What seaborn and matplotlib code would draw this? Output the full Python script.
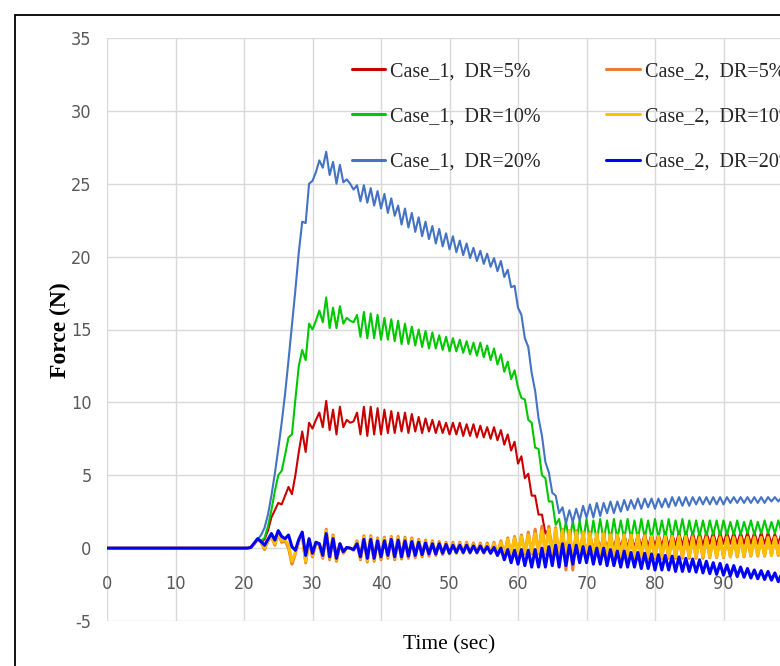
import numpy as np
import pandas as pd
import matplotlib
matplotlib.use("Agg")
import matplotlib.pyplot as plt
from matplotlib.patches import Rectangle
import seaborn as sns

# ---------------- data ----------------
# sampling grid: t = 0, then 20.0 ... 100.0 every 0.5 s
time_s = np.concatenate([[0.0], np.arange(20.0, 100.01, 0.5)])

case1_dr5 = [0.0,
    0, 0, 0.05, 0.3, 0.6, 0.4, 0.6, 1.2, 2.1, 2.6,
    3.1, 3.0, 3.6, 4.2, 3.7, 5.0, 6.6, 8.0, 6.6, 8.6,
    8.2, 8.8, 9.3, 8.3, 10.1, 8.1, 9.5, 7.8, 9.7, 8.3,
    8.8, 8.6, 8.7, 9.3, 7.8, 9.7, 7.7, 9.7, 7.8, 9.6,
    7.8, 9.5, 7.9, 9.4, 7.9, 9.3, 8.0, 9.3, 7.9, 9.2,
    8.0, 9.0, 7.9, 8.9, 8.0, 8.8, 7.9, 8.7, 7.9, 8.6,
    7.8, 8.6, 7.8, 8.6, 7.7, 8.5, 7.7, 8.5, 7.6, 8.4,
    7.6, 8.3, 7.5, 8.3, 7.4, 8.1, 7.1, 7.8, 6.7, 7.3,
    5.8, 6.3, 4.8, 5.1, 3.6, 3.6, 2.3, 2.3, 1.0, 1.3,
    0.1, 0.9, -0.2, 1.0, -0.3, 1.0, -0.4, 1.0, -0.2, 0.9,
    -0.2, 0.9, -0.1, 0.9, -0.1, 1.0, -0.1, 0.9, 0.0, 1.0,
    0.0, 1.0, 0.0, 1.0, 0.0, 1.0, 0.1, 1.0, 0.1, 1.0,
    0.1, 1.0, 0.1, 1.1, 0.1, 1.0, 0.2, 1.1, 0.2, 1.1,
    0.2, 1.1, 0.2, 1.1, 0.2, 1.1, 0.3, 1.1, 0.2, 1.1,
    0.3, 1.1, 0.3, 1.1, 0.3, 1.1, 0.3, 1.1, 0.3, 1.1,
    0.3, 1.1, 0.3, 1.1, 0.3, 1.0, 0.3, 1.1, 0.3, 1.0,
    0.3]

case1_dr10 = [0.0,
    0, 0, 0.05, 0.3, 0.6, 0.5, 0.7, 1.5, 2.6, 3.9,
    5.0, 5.3, 6.4, 7.6, 7.8, 10.2, 12.5, 13.6, 12.9, 15.4,
    15.0, 15.6, 16.3, 15.5, 17.2, 15.1, 16.5, 15.1, 16.6, 15.4,
    15.8, 15.6, 15.5, 16.0, 14.5, 16.2, 14.4, 16.1, 14.4, 16.0,
    14.3, 15.8, 14.3, 15.7, 14.2, 15.6, 14.0, 15.4, 14.0, 15.2,
    13.9, 15.0, 13.8, 14.9, 13.7, 14.8, 13.7, 14.6, 13.6, 14.5,
    13.5, 14.4, 13.5, 14.3, 13.4, 14.2, 13.3, 14.1, 13.2, 14.1,
    13.1, 13.9, 12.9, 13.7, 12.6, 13.3, 12.1, 12.8, 11.6, 12.2,
    11.0, 10.3, 10.2, 8.8, 8.6, 6.9, 6.8, 5.0, 4.8, 3.2,
    3.2, 1.6, 2.0, 0.6, 1.8, 0.4, 1.9, 0.4, 1.9, 0.4,
    2.0, 0.4, 1.9, 0.5, 2.0, 0.5, 1.9, 0.5, 2.0, 0.6,
    1.9, 0.6, 2.0, 0.6, 1.9, 0.6, 2.0, 0.7, 1.9, 0.6,
    2.0, 0.7, 1.9, 0.7, 2.0, 0.7, 1.9, 0.8, 2.0, 0.7,
    1.9, 0.8, 1.9, 0.8, 1.9, 0.8, 1.9, 0.9, 1.9, 0.8,
    1.9, 0.9, 1.8, 0.9, 1.9, 0.9, 1.8, 1.0, 1.9, 0.9,
    1.8, 1.0, 1.9, 1.0, 1.8, 1.0, 1.9, 1.0, 1.8, 1.0,
    1.8]

case1_dr20 = [0.0,
    0, 0, 0.05, 0.3, 0.6, 0.9, 1.4, 2.3, 3.6, 5.1,
    6.8, 8.6, 10.6, 12.9, 15.3, 17.7, 20.3, 22.4, 22.3, 25.0,
    25.2, 25.8, 26.6, 26.1, 27.2, 25.6, 26.5, 25.0, 26.3, 25.1,
    25.3, 25.0, 24.6, 24.9, 23.8, 24.9, 23.7, 24.7, 23.5, 24.5,
    23.3, 24.3, 23.0, 24.0, 22.8, 23.5, 22.2, 23.3, 22.0, 23.0,
    21.7, 22.7, 21.4, 22.4, 21.2, 22.1, 20.9, 21.9, 20.7, 21.6,
    20.5, 21.4, 20.3, 21.1, 20.1, 20.9, 19.9, 20.6, 19.7, 20.4,
    19.5, 20.2, 19.3, 19.9, 19.0, 19.7, 18.6, 19.1, 17.9, 18.0,
    16.5, 16.0, 14.4, 13.8, 12.0, 10.8, 8.9, 7.7, 5.9, 5.2,
    3.8, 3.6, 2.4, 2.8, 1.7, 2.6, 1.8, 2.7, 1.9, 2.9,
    2.1, 3.0, 2.1, 3.1, 2.2, 3.1, 2.4, 3.2, 2.4, 3.2,
    2.5, 3.3, 2.6, 3.3, 2.7, 3.4, 2.7, 3.4, 2.8, 3.4,
    2.7, 3.4, 2.8, 3.4, 2.8, 3.5, 2.9, 3.5, 2.9, 3.5,
    2.9, 3.5, 3.0, 3.5, 3.0, 3.5, 3.0, 3.5, 3.0, 3.5,
    3.0, 3.5, 3.1, 3.5, 3.1, 3.5, 3.1, 3.5, 3.1, 3.5,
    3.1, 3.5, 3.1, 3.5, 3.2, 3.5, 3.2, 3.5, 3.2, 3.5,
    3.2]

case2_dr5 = [0.0,
    0, 0, 0.05, 0.3, 0.6, 0.4, -0.1, 0.5, 0.8, 0.2,
    1.0, 0.4, 0.5, 0.0, -1.1, -0.4, 0.5, 0.9, -1.0, 0.6,
    -0.6, 0.4, 0.2, -0.7, 1.3, -0.8, 0.9, -0.9, 0.3, -0.35,
    0.0, 0.0, -0.15, 0.5, -0.8, 0.85, -0.95, 0.85, -0.9, 0.7,
    -0.8, 0.75, -0.7, 0.8, -0.8, 0.8, -0.75, 0.75, -0.7, 0.7,
    -0.65, 0.6, -0.6, 0.55, -0.55, 0.5, -0.5, 0.45, -0.45, 0.4,
    -0.4, 0.4, -0.35, 0.4, -0.35, 0.4, -0.35, 0.35, -0.35, 0.35,
    -0.35, 0.35, -0.35, 0.4, -0.5, 0.5, -0.5, 0.7, -0.5, 0.8,
    -0.5, 0.9, -0.4, 1.1, -0.4, 1.3, -0.4, 1.5, -0.4, 1.5,
    -0.5, 1.4, -0.8, 1.3, -1.5, 1.2, -1.5, 1.2, -0.7, 1.1,
    -0.7, 1.1, -0.7, 1.0, -0.7, 1.0, -0.7, 1.0, -0.7, 0.9,
    -0.7, 0.9, -0.7, 0.9, -0.7, 0.9, -0.7, 0.9, -0.7, 0.8,
    -0.7, 0.8, -0.7, 0.8, -0.7, 0.8, -0.7, 0.8, -0.7, 0.8,
    -0.7, 0.8, -0.7, 0.75, -0.7, 0.75, -0.65, 0.75, -0.65, 0.75,
    -0.65, 0.75, -0.6, 0.75, -0.6, 0.75, -0.6, 0.75, -0.55, 0.75,
    -0.55, 0.75, -0.55, 0.75, -0.5, 0.75, -0.5, 0.75, -0.5, 0.75,
    -0.5]

case2_dr10 = [0.0,
    0, 0, 0.05, 0.3, 0.6, 0.4, 0.0, 0.5, 0.8, 0.3,
    1.0, 0.5, 0.6, 0.2, -0.9, -0.3, 0.5, 0.9, -0.9, 0.6,
    -0.5, 0.4, 0.2, -0.6, 1.2, -0.7, 0.8, -0.8, 0.3, -0.3,
    0.0, 0.0, -0.1, 0.4, -0.7, 0.75, -0.85, 0.75, -0.8, 0.6,
    -0.7, 0.65, -0.6, 0.7, -0.7, 0.7, -0.65, 0.65, -0.6, 0.6,
    -0.55, 0.5, -0.5, 0.45, -0.45, 0.4, -0.4, 0.35, -0.4, 0.3,
    -0.35, 0.3, -0.3, 0.3, -0.3, 0.3, -0.3, 0.25, -0.3, 0.25,
    -0.3, 0.25, -0.3, 0.3, -0.4, 0.4, -0.4, 0.6, -0.4, 0.7,
    -0.4, 0.8, -0.3, 0.9, -0.3, 1.0, -0.3, 1.2, -0.3, 1.3,
    -0.4, 1.3, -0.5, 1.2, -0.6, 1.2, -0.6, 1.1, -0.6, 1.1,
    -0.6, 1.0, -0.6, 1.0, -0.6, 1.0, -0.6, 0.9, -0.6, 0.9,
    -0.6, 0.9, -0.6, 0.9, -0.6, 0.9, -0.6, 0.8, -0.6, 0.8,
    -0.6, 0.8, -0.6, 0.8, -0.6, 0.8, -0.6, 0.8, -0.6, 0.8,
    -0.6, 0.7, -0.6, 0.7, -0.6, 0.7, -0.6, 0.7, -0.6, 0.7,
    -0.6, 0.7, -0.6, 0.7, -0.55, 0.7, -0.55, 0.7, -0.5, 0.7,
    -0.5, 0.7, -0.5, 0.7, -0.5, 0.7, -0.45, 0.7, -0.45, 0.7,
    -0.45]

case2_dr20 = [0.0,
    0, 0, 0.05, 0.35, 0.65, 0.45, 0.2, 0.6, 1.0, 0.55,
    1.2, 0.8, 0.65, 0.9, 0.1, -0.15, 0.6, 1.1, -0.5, 0.65,
    -0.35, 0.4, 0.3, -0.5, 1.0, -0.6, 0.65, -0.7, 0.3, -0.25,
    0.05, 0.0, -0.1, 0.3, -0.6, 0.6, -0.7, 0.6, -0.7, 0.5,
    -0.6, 0.5, -0.5, 0.6, -0.6, 0.55, -0.6, 0.5, -0.55, 0.45,
    -0.5, 0.4, -0.45, 0.35, -0.4, 0.3, -0.4, 0.3, -0.35, 0.25,
    -0.35, 0.2, -0.3, 0.2, -0.3, 0.2, -0.3, 0.15, -0.3, 0.15,
    -0.3, 0.1, -0.35, 0.05, -0.5, 0.0, -0.8, -0.1, -1.0, -0.15,
    -1.1, -0.1, -1.2, -0.15, -1.3, -0.1, -1.3, 0.0, -1.3, 0.1,
    -1.2, 0.2, -1.3, 0.3, -1.2, 0.2, -1.1, 0.2, -1.0, 0.1,
    -1.0, 0.1, -1.1, 0.0, -1.1, 0.0, -1.2, -0.1, -1.2, -0.2,
    -1.3, -0.2, -1.3, -0.3, -1.3, -0.3, -1.4, -0.35, -1.4, -0.4,
    -1.5, -0.45, -1.5, -0.5, -1.5, -0.55, -1.6, -0.6, -1.6, -0.7,
    -1.6, -0.75, -1.65, -0.8, -1.7, -0.9, -1.75, -1.0, -1.8, -1.05,
    -1.85, -1.15, -1.9, -1.2, -1.95, -1.3, -2.0, -1.4, -2.05, -1.5,
    -2.1, -1.55, -2.15, -1.6, -2.2, -1.7, -2.3, -1.75, -2.35, -1.8,
    -2.4]

series_labels = ["Case_1,  DR=5%", "Case_1,  DR=10%", "Case_1,  DR=20%",
                 "Case_2,  DR=5%", "Case_2,  DR=10%", "Case_2,  DR=20%"]
series_values = [case1_dr5, case1_dr10, case1_dr20, case2_dr5, case2_dr10, case2_dr20]
series_colors = ["#C80000", "#00C800", "#4472C4", "#ED7D31", "#FFC000", "#0000FF"]
series_widths = [1.5, 1.5, 1.5, 2.2, 2.2, 2.2]

x_ticks = list(range(0, 91, 10))   # the 100 label falls outside the cropped figure
y_ticks = list(range(-5, 36, 5))

# ---------------- figure ----------------
sns.set_style("white")
plt.rcParams["font.family"] = ["Liberation Serif", "DejaVu Serif"]
plt.rcParams["axes.unicode_minus"] = False

W, H = 780, 666
fig = plt.figure(figsize=(W / 100, H / 100), dpi=100)
ax = fig.add_axes([107 / W, 45 / H, 685 / W, 583 / H])

# outer black frame (clipped on the right / bottom like the reference)
fig.add_artist(Rectangle((15 / W, -0.1), 1.2, (H - 15) / H + 0.1,
                         transform=fig.transFigure, fill=False,
                         edgecolor="black", linewidth=1.3))

for lab, vals, col, lw in zip(series_labels, series_values, series_colors, series_widths):
    sns.lineplot(x=time_s, y=np.asarray(vals, dtype=float), ax=ax, color=col,
                 linewidth=lw, label=lab, estimator=None, sort=False)

ax.set_xlim(0, 100)
ax.set_ylim(-5, 35)
ax.set_xticks(x_ticks)
ax.set_yticks(y_ticks)
# vertical grid line at the (cropped) right edge value 100
ax.axvline(100, color="#D9D9D9", linewidth=1.0, zorder=0)
ax.grid(True, color="#D9D9D9", linewidth=1.0)
ax.set_axisbelow(True)
for s in ax.spines.values():
    s.set_visible(False)
ax.spines["bottom"].set_position(("data", 0))

ax.tick_params(axis="x", length=0, pad=19, labelsize=13, labelcolor="#595959")
ax.tick_params(axis="y", length=0, pad=11, labelsize=13, labelcolor="#595959")
for lab in ax.get_xticklabels() + ax.get_yticklabels():
    lab.set_family(["DejaVu Sans"])
    lab.set_stretch("condensed")

ax.set_xlabel("")
ax.set_ylabel("")
fig.text(449 / W, 1 - 645 / H, "Time (sec)", ha="center", va="center",
         fontsize=15.5, color="black")
fig.text(60 / W, 1 - 330 / H, "Force (N)", ha="center", va="center",
         rotation=90, fontsize=17, fontweight="bold", color="black")

handles, labels = ax.get_legend_handles_labels()
leg = ax.legend(handles, labels, ncol=2, frameon=False, fontsize=14.5,
                loc="upper left", bbox_to_anchor=(352 / W, 1 - 62 / H),
                bbox_transform=fig.transFigure, borderpad=0, borderaxespad=0,
                handlelength=1.65, handletextpad=0.25, labelspacing=1.3,
                columnspacing=3.25)
for lh in leg.get_lines():
    lh.set_linewidth(2.2)

fig.savefig("out.png", dpi=100)
